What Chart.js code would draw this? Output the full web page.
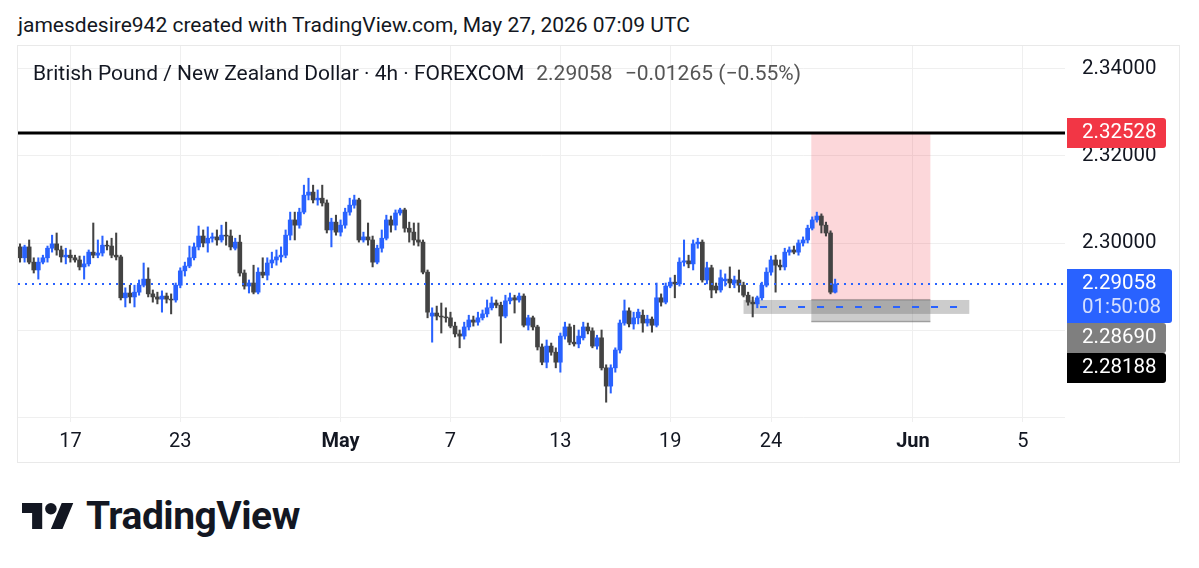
<!DOCTYPE html>
<html>
<head>
<meta charset="utf-8">
<script src="https://cdn.jsdelivr.net/npm/chart.js@4.4.1/dist/chart.umd.min.js"></script>
<style>
  html, body { margin: 0; padding: 0; background: #fff; }
  body { width: 1199px; height: 568px; position: relative; overflow: hidden; font-family: Roboto, sans-serif; color: #131722; }
  #hdr { position: absolute; left: 18px; top: 13px; font-size: 21px; white-space: nowrap; }
  #wrap { position: absolute; left: 17px; top: 45px; width: 1161px; height: 416px; border: 1px solid #e9e9e9; }
  #legend { position: absolute; left: 33px; top: 61px; font-size: 21px; white-space: nowrap; }
  #legend .val { color: #555; margin-left: 12px; }
  #logo { position: absolute; left: 22px; top: 496px; height: 40px; display: flex; align-items: center; }
  #logo span { font-size: 39px; font-weight: 700; margin-left: 12px; letter-spacing: -0.5px; }
</style>
</head>
<body>
<div id="hdr">jamesdesire942 created with TradingView.com, May 27, 2026 07:09 UTC</div>
<div id="wrap"><canvas id="c"></canvas></div>
<div id="legend">British Pound / New Zealand Dollar · 4h · FOREXCOM<span class="val">2.29058</span><span class="val">−0.01265 (−0.55%)</span></div>
<div id="logo">
  <svg width="52" height="40" viewBox="0 2 36 22"><path d="M14 22H7V11H0V4h14v18zM28 22h-8l7.5-18h8L28 22z" fill="#131722"/><circle cx="20" cy="8" r="4" fill="#131722"/></svg>
  <span>TradingView</span>
</div>
<script>
// GBPNZD 4h candles (one entry per bar)
var opens = [2.2991,2.2966,2.2991,2.2956,2.2938,2.2956,2.2966,2.2988,2.2998,2.2984,
  2.2968,2.2972,2.2966,2.2961,2.2945,2.2952,2.2979,2.2972,2.2977,2.2995,
  2.2993,2.2972,2.2968,2.2874,2.2885,2.2876,2.2887,2.2903,2.2917,2.2883,
  2.2876,2.2871,2.2878,2.2871,2.2869,2.2903,2.2936,2.2947,2.2966,2.2991,
  2.3016,2.3000,2.3011,2.3014,2.3007,2.3018,2.3016,2.2988,2.3002,2.2931,
  2.2901,2.2908,2.2887,2.2933,2.2926,2.2954,2.2961,2.2968,2.2972,2.3018,
  2.3053,2.3041,2.3071,2.3110,2.3117,2.3099,2.3103,2.3092,2.3030,2.3048,
  2.3025,2.3041,2.3071,2.3087,2.3099,2.3007,2.3014,2.3007,2.2956,2.2988,
  2.3011,2.3053,2.3041,2.3069,2.3076,2.3034,2.3025,2.3007,2.3002,2.2933,
  2.2832,2.2839,2.2832,2.2830,2.2828,2.2809,2.2791,2.2786,2.2807,2.2823,
  2.2818,2.2828,2.2837,2.2851,2.2862,2.2857,2.2832,2.2867,2.2874,2.2869,
  2.2878,2.2811,2.2828,2.2807,2.2761,2.2726,2.2763,2.2749,2.2726,2.2786,
  2.2807,2.2772,2.2768,2.2782,2.2807,2.2798,2.2763,2.2782,2.2713,2.2671,
  2.2713,2.2754,2.2816,2.2844,2.2814,2.2828,2.2834,2.2816,2.2825,2.2811,
  2.2874,2.2864,2.2901,2.2910,2.2906,2.2956,2.2959,2.2952,2.2998,2.3002,
  2.2915,2.2943,2.2901,2.2892,2.2913,2.2917,2.2908,2.2915,2.2903,2.2880,
  2.2864,2.2860,2.2874,2.2903,2.2933,2.2961,2.2949,2.2945,2.2979,2.2984,
  2.2979,2.3000,2.3007,2.3034,2.3053,2.3062,2.3041,2.3023,2.2887];
var highs = [2.2998,2.2995,2.3007,2.2966,2.2966,2.2972,2.2993,2.3018,2.3023,2.2993,
  2.2988,2.2984,2.2972,2.2970,2.2970,2.2984,2.3046,2.3007,2.3016,2.3005,
  2.3011,2.3023,2.2972,2.2897,2.2903,2.2903,2.2915,2.2954,2.2943,2.2892,
  2.2887,2.2890,2.2885,2.2883,2.2908,2.2943,2.2956,2.2993,2.3000,2.3039,
  2.3030,2.3037,2.3023,2.3030,2.3041,2.3048,2.3030,2.3011,2.3018,2.2938,
  2.2915,2.2949,2.2943,2.2966,2.2966,2.2979,2.2984,2.2991,2.3030,2.3071,
  2.3071,2.3080,2.3133,2.3149,2.3133,2.3122,2.3133,2.3099,2.3057,2.3064,
  2.3053,2.3080,2.3103,2.3110,2.3103,2.3025,2.3046,2.3016,2.2995,2.3030,
  2.3064,2.3062,2.3076,2.3080,2.3080,2.3048,2.3046,2.3046,2.3007,2.2938,
  2.2851,2.2855,2.2862,2.2851,2.2841,2.2818,2.2800,2.2818,2.2834,2.2832,
  2.2841,2.2846,2.2869,2.2876,2.2869,2.2864,2.2880,2.2885,2.2880,2.2885,
  2.2883,2.2834,2.2832,2.2811,2.2768,2.2777,2.2770,2.2759,2.2793,2.2818,
  2.2814,2.2811,2.2800,2.2818,2.2816,2.2805,2.2788,2.2800,2.2720,2.2720,
  2.2759,2.2823,2.2869,2.2851,2.2841,2.2848,2.2846,2.2834,2.2830,2.2908,
  2.2883,2.2908,2.2920,2.2926,2.2966,2.3007,2.2972,2.3007,2.3011,2.3007,
  2.2956,2.2949,2.2908,2.2938,2.2929,2.2945,2.2924,2.2938,2.2910,2.2887,
  2.2876,2.2878,2.2910,2.2943,2.2970,2.2972,2.2961,2.2988,2.2991,2.2993,
  2.3007,2.3014,2.3041,2.3060,2.3071,2.3067,2.3048,2.3028,2.2917];
var lows = [2.2956,2.2956,2.2952,2.2931,2.2917,2.2952,2.2956,2.2979,2.2972,2.2956,
  2.2952,2.2956,2.2956,2.2938,2.2917,2.2947,2.2966,2.2966,2.2970,2.2984,
  2.2966,2.2961,2.2869,2.2853,2.2862,2.2853,2.2880,2.2899,2.2876,2.2864,
  2.2860,2.2841,2.2862,2.2837,2.2864,2.2897,2.2924,2.2943,2.2961,2.2984,
  2.2991,2.2979,2.3002,2.2995,2.3002,2.2995,2.2984,2.2984,2.2924,2.2894,
  2.2885,2.2883,2.2883,2.2920,2.2915,2.2943,2.2949,2.2956,2.2966,2.3007,
  2.3007,2.3034,2.3067,2.3099,2.3092,2.3087,2.3085,2.3023,2.2991,2.3018,
  2.3016,2.3034,2.3064,2.3080,2.3002,2.3002,2.2995,2.2945,2.2952,2.2979,
  2.3007,2.3025,2.3030,2.3064,2.3025,2.3002,2.2995,2.2993,2.2929,2.2828,
  2.2772,2.2823,2.2793,2.2818,2.2805,2.2784,2.2759,2.2779,2.2800,2.2809,
  2.2811,2.2823,2.2830,2.2846,2.2851,2.2770,2.2828,2.2860,2.2839,2.2864,
  2.2807,2.2800,2.2800,2.2754,2.2720,2.2713,2.2742,2.2713,2.2703,2.2779,
  2.2766,2.2763,2.2759,2.2777,2.2791,2.2759,2.2756,2.2708,2.2634,2.2655,
  2.2703,2.2747,2.2811,2.2807,2.2802,2.2814,2.2795,2.2809,2.2795,2.2807,
  2.2855,2.2860,2.2897,2.2874,2.2901,2.2947,2.2943,2.2938,2.2988,2.2910,
  2.2906,2.2874,2.2885,2.2887,2.2901,2.2897,2.2897,2.2887,2.2876,2.2857,
  2.2830,2.2851,2.2869,2.2899,2.2926,2.2887,2.2938,2.2938,2.2972,2.2975,
  2.2972,2.2993,2.3000,2.3030,2.3048,2.3023,2.3016,2.2883,2.2885];
var closes = [2.2966,2.2991,2.2956,2.2938,2.2956,2.2966,2.2988,2.2998,2.2984,2.2968,
  2.2972,2.2966,2.2961,2.2945,2.2952,2.2979,2.2972,2.2977,2.2995,2.2993,
  2.2972,2.2968,2.2874,2.2885,2.2876,2.2887,2.2903,2.2917,2.2883,2.2876,
  2.2871,2.2878,2.2871,2.2869,2.2903,2.2936,2.2947,2.2966,2.2991,2.3016,
  2.3000,2.3011,2.3014,2.3007,2.3018,2.3016,2.2991,2.3002,2.2931,2.2901,
  2.2908,2.2887,2.2933,2.2926,2.2954,2.2961,2.2968,2.2972,2.3018,2.3053,
  2.3041,2.3071,2.3110,2.3117,2.3099,2.3103,2.3092,2.3030,2.3048,2.3025,
  2.3041,2.3071,2.3087,2.3099,2.3007,2.3014,2.3007,2.2956,2.2988,2.3011,
  2.3053,2.3041,2.3069,2.3076,2.3034,2.3025,2.3007,2.3002,2.2933,2.2841,
  2.2839,2.2832,2.2830,2.2828,2.2809,2.2791,2.2786,2.2807,2.2823,2.2818,
  2.2828,2.2837,2.2851,2.2862,2.2857,2.2832,2.2867,2.2874,2.2869,2.2878,
  2.2811,2.2828,2.2807,2.2761,2.2726,2.2763,2.2749,2.2726,2.2786,2.2807,
  2.2772,2.2768,2.2786,2.2807,2.2798,2.2763,2.2782,2.2713,2.2671,2.2713,
  2.2754,2.2816,2.2844,2.2814,2.2828,2.2841,2.2816,2.2825,2.2811,2.2874,
  2.2864,2.2901,2.2910,2.2906,2.2956,2.2959,2.2952,2.2998,2.3002,2.2915,
  2.2943,2.2892,2.2892,2.2920,2.2917,2.2908,2.2915,2.2903,2.2880,2.2864,
  2.2860,2.2874,2.2903,2.2933,2.2961,2.2949,2.2945,2.2979,2.2984,2.2979,
  2.3000,2.3007,2.3034,2.3053,2.3062,2.3041,2.3023,2.2887,2.29058];

// time axis: bar index where each date label sits
var tickBars = [11, 35, 70, 94, 118, 142, 164, 195, 219];
var tickLabels = ['17', '23', 'May', '7', '13', '19', '24', 'Jun', '5'];
var priceTicks = [2.26, 2.28, 2.30, 2.32, 2.34];
var yMin = 2.258851, yMax = 2.345287;
var xMin = -0.44, xMax = 228.2;

var lastPrice = 2.29058, countdown = '01:50:08';
var stopPrice = 2.32528, entryPrice = 2.28690, targetPrice = 2.28188;
var posBars = [172.8, 198.8];        // short position box
var bandBars = [158, 207.3];         // grey range rectangle
var bandPrices = [2.2869, 2.2837];
var dashPrice = 2.2853, dashBars = [161.6, 206];

var UP = '#2962ff', DOWN = '#434343';

Chart.defaults.font.family = 'Roboto, sans-serif';
Chart.defaults.color = '#131722';

var colors = closes.map(function (c, i) { return c >= opens[i] ? UP : DOWN; });
var bodies = closes.map(function (c, i) { return { x: i, y: [opens[i], c] }; });
var wicks = closes.map(function (c, i) { return { x: i, y: [lows[i], highs[i]] }; });

function noPad(s) { s.paddingTop = s.paddingBottom = s.paddingLeft = s.paddingRight = 0; }

function boxLabel(ctx, x, y, w, h, bg, lines) {
  ctx.fillStyle = bg;
  ctx.beginPath();
  ctx.roundRect(x, y, w, h, [0, 3, 3, 0]);
  ctx.fill();
  ctx.textBaseline = 'middle';
  ctx.textAlign = 'left';
  ctx.font = '20.5px Roboto, sans-serif';
  lines.forEach(function (l, k) {
    ctx.fillStyle = l.color || '#fff';
    ctx.fillText(l.text, x + 15, y + 15 + k * 24);
  });
}

var overlays = {
  id: 'overlays',
  beforeDatasetsDraw: function (chart) {
    var ctx = chart.ctx, xs = chart.scales.x, ys = chart.scales.y, a = chart.chartArea;
    ctx.save();
    ctx.beginPath(); ctx.rect(a.left, a.top, a.right - a.left, a.bottom - a.top); ctx.clip();
    var x0 = xs.getPixelForValue(posBars[0]), x1 = xs.getPixelForValue(posBars[1]);
    // stop zone
    ctx.fillStyle = 'rgba(242,54,69,0.2)';
    ctx.fillRect(x0, ys.getPixelForValue(stopPrice), x1 - x0, ys.getPixelForValue(entryPrice) - ys.getPixelForValue(stopPrice));
    // target zone
    ctx.fillStyle = 'rgba(110,110,110,0.35)';
    ctx.fillRect(x0, ys.getPixelForValue(entryPrice), x1 - x0, ys.getPixelForValue(targetPrice) - ys.getPixelForValue(entryPrice));
    ctx.fillStyle = 'rgba(90,90,90,0.45)';
    ctx.fillRect(x0, ys.getPixelForValue(entryPrice) - 1, x1 - x0, 1.5);
    ctx.fillRect(x0, ys.getPixelForValue(targetPrice) - 1, x1 - x0, 1.5);
    // grey band
    var bx0 = xs.getPixelForValue(bandBars[0]), bx1 = xs.getPixelForValue(bandBars[1]);
    var by0 = ys.getPixelForValue(bandPrices[0]), by1 = ys.getPixelForValue(bandPrices[1]);
    ctx.fillStyle = 'rgba(110,110,110,0.35)';
    ctx.fillRect(bx0, by0, bx1 - bx0, by1 - by0);
    ctx.restore();
  },
  afterDatasetsDraw: function (chart) {
    var ctx = chart.ctx, xs = chart.scales.x, ys = chart.scales.y, a = chart.chartArea;
    ctx.save();
    // dashed level inside the band
    var dy = ys.getPixelForValue(dashPrice);
    ctx.strokeStyle = UP; ctx.lineWidth = 2; ctx.setLineDash([7, 12]);
    ctx.beginPath(); ctx.moveTo(xs.getPixelForValue(dashBars[0]), dy); ctx.lineTo(xs.getPixelForValue(dashBars[1]), dy); ctx.stroke();
    // current price dotted line
    var ly = ys.getPixelForValue(lastPrice);
    ctx.lineWidth = 2; ctx.setLineDash([2, 5]);
    ctx.beginPath(); ctx.moveTo(a.left, ly); ctx.lineTo(a.right, ly); ctx.stroke();
    // stop line
    var sy = ys.getPixelForValue(stopPrice);
    ctx.setLineDash([]); ctx.strokeStyle = '#000'; ctx.lineWidth = 3;
    ctx.beginPath(); ctx.moveTo(a.left, sy); ctx.lineTo(a.right, sy); ctx.stroke();
    ctx.restore();
  },
  afterDraw: function (chart) {
    var ctx = chart.ctx, ys = chart.scales.y, a = chart.chartArea;
    var bx = a.right + 2;
    ctx.save();
    boxLabel(ctx, bx, ys.getPixelForValue(stopPrice) - 15, 99, 30, '#f23645', [{ text: stopPrice.toFixed(5) }]);
    var blueTop = ys.getPixelForValue(lastPrice) - 15;
    boxLabel(ctx, bx, blueTop, 105, 54, UP, [{ text: lastPrice.toFixed(5) }, { text: countdown, color: 'rgba(255,255,255,0.8)' }]);
    var grayTop = Math.max(ys.getPixelForValue(entryPrice) - 15, blueTop + 54);
    boxLabel(ctx, bx, grayTop, 99, 30, '#7f7f7f', [{ text: entryPrice.toFixed(5) }]);
    var blackTop = Math.max(ys.getPixelForValue(targetPrice) - 15, grayTop + 30);
    boxLabel(ctx, bx, blackTop, 99, 30, '#000', [{ text: targetPrice.toFixed(5) }]);
    ctx.restore();
  }
};

new Chart(document.getElementById('c'), {
  type: 'bar',
  data: {
    datasets: [
      { data: bodies, backgroundColor: colors, barThickness: 4, grouped: false, order: 0 },
      { data: wicks, backgroundColor: colors, barThickness: 1.4, grouped: false, order: 1 }
    ]
  },
  options: {
    animation: false,
    responsive: true,
    maintainAspectRatio: false,
    layout: { padding: 0, autoPadding: false },
    plugins: { legend: { display: false }, tooltip: { enabled: false } },
    scales: {
      x: {
        type: 'linear',
        offset: false,
        bounds: 'data',
        min: xMin,
        max: xMax,
        afterBuildTicks: function (s) {
          s.min = xMin; s.max = xMax;
          s.ticks = tickBars.map(function (v) { return { value: v }; });
        },
        afterFit: function (s) { s.height = 40; noPad(s); },
        grid: { color: '#efefef', drawTicks: false, offset: false },
        border: { display: false },
        ticks: {
          padding: 8,
          maxRotation: 0,
          autoSkip: false,
          font: function (c) {
            var lab = tickLabels[c.index];
            return { size: 20, weight: (lab === 'May' || lab === 'Jun') ? 'bold' : 'normal' };
          },
          callback: function (v, i) { return tickLabels[i]; }
        }
      },
      y: {
        position: 'right',
        bounds: 'data',
        min: yMin,
        max: yMax,
        afterBuildTicks: function (s) {
          s.min = yMin; s.max = yMax;
          s.ticks = priceTicks.map(function (v) { return { value: v }; });
        },
        afterFit: function (s) { s.width = 114; noPad(s); },
        grid: { color: '#efefef', drawTicks: false },
        border: { display: false },
        ticks: {
          padding: 17,
          font: { size: 20.5 },
          callback: function (v) { return v >= 2.30 ? v.toFixed(5) : ''; }
        }
      }
    }
  },
  plugins: [overlays]
});
</script>
</body>
</html>
